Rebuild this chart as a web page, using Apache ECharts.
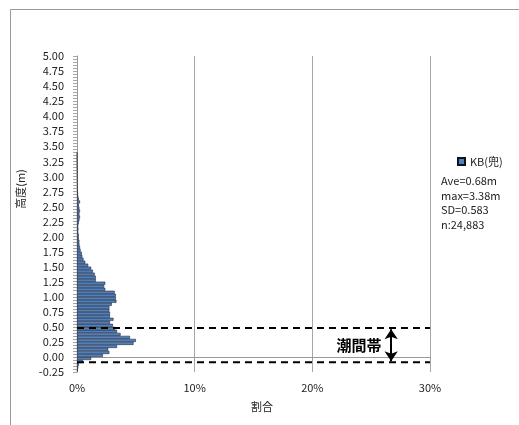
<!DOCTYPE html>
<html><head><meta charset="utf-8">
<script src="https://cdn.jsdelivr.net/npm/echarts@6/dist/echarts.min.js"></script>
<style>html,body{margin:0;padding:0;background:#fff}#c{width:519px;height:425px}</style>
</head><body><div id="c"></div>
<script>
// Lower edge of each 0.05 m height bin (m)
var heightBins = [-0.25,-0.20,-0.15,-0.10,-0.05,0.00,0.05,0.10,0.15,0.20,0.25,0.30,0.35,0.40,0.45,0.50,0.55,0.60,0.65,0.70,0.75,0.80,0.85,0.90,0.95,1.00,1.05,1.10,1.15,1.20,1.25,1.30,1.35,1.40,1.45,1.50,1.55,1.60,1.65,1.70,1.75,1.80,1.85,1.90,1.95,2.00,2.05,2.10,2.15,2.20,2.25,2.30,2.35,2.40,2.45,2.50,2.55,2.60,2.65,2.70,2.75,2.80,2.85,2.90,2.95,3.00,3.05,3.10,3.15,3.20,3.25,3.30,3.35];
// Share (%) of each bin
var sharePercent = [0.05,0.1,0.15,0.5,1.2,2.2,2.75,2.65,3.4,4.8,5.0,4.5,3.7,3.4,3.25,3.05,2.8,3.1,2.8,2.8,2.75,2.75,2.95,3.35,3.3,3.3,3.2,2.4,2.3,2.4,1.6,1.6,1.5,1.35,1.2,0.95,0.7,0.55,0.45,0.4,0.3,0.25,0.2,0.2,0.15,0.15,0.1,0.12,0.1,0.15,0.2,0.25,0.2,0.25,0.2,0.15,0.25,0.15,0.1,0.08,0.06,0.05,0.05,0.04,0.04,0.03,0.03,0.02,0.02,0.02,0.01,0.01,0.01];
var seriesName = 'KB(兜)';
var statLines = ['Ave=0.68m','max=3.38m','SD=0.583','n:24,883'];
var xTickLabels = ['0%','10%','20%','30%'];
var intertidalUpper = 0.48, intertidalLower = -0.09;
var intertidalLabel = '潮間帯';
var yTitle = '高度(m)', xTitle = '割合';

var yMin = -0.25, yMax = 5.00, binStep = 0.05;
var nSlots = Math.round((yMax - yMin) / binStep);
var slots = [], barData = [];
for (var i = 0; i < nSlots; i++) { slots.push(String(i)); barData.push(null); }
heightBins.forEach(function (h, k) {
  var idx = Math.round((h - yMin) / binStep);
  barData[idx] = sharePercent[k];
});

var font = '"Noto Sans CJK JP","Noto Sans",sans-serif';
var chart = echarts.init(document.getElementById('c'), null, {renderer: 'canvas'});
chart.setOption({
  animation: false,
  textStyle: {fontFamily: font},
  grid: {left: 77, right: 89, top: 56, bottom: 53, containLabel: false},
  xAxis: {
    type: 'value', min: 0, max: 30, interval: 10,
    axisLine: {show: true, lineStyle: {color: '#9a9a9a'}},
    axisTick: {show: true, length: 4, lineStyle: {color: '#9a9a9a'}},
    axisLabel: {color: '#222', fontSize: 11, margin: 10, fontFamily: font,
      formatter: function (v) { return xTickLabels[Math.round(v / 10)]; }},
    splitLine: {show: true, lineStyle: {color: '#a6a6a6', width: 1}}
  },
  yAxis: [{
    type: 'category', data: slots, boundaryGap: true,
    axisLine: {show: true, lineStyle: {color: '#9a9a9a'}},
    axisTick: {show: true, interval: 0, length: 4, lineStyle: {color: '#a6a6a6'}},
    axisLabel: {show: false}, splitLine: {show: false}
  }, {
    type: 'value', min: yMin, max: yMax, interval: 0.25, position: 'left',
    axisLine: {show: false}, axisTick: {show: false}, splitLine: {show: false},
    axisLabel: {color: '#222', fontSize: 11, margin: 13, fontFamily: font,
      formatter: function (v) { return v.toFixed(2); }}
  }],
  legend: {
    show: true, data: [seriesName], left: 452, top: 151, icon: 'rect',
    itemWidth: 7, itemHeight: 7, itemGap: 4,
    textStyle: {fontSize: 11, color: '#222', fontFamily: font}
  },
  series: [{
    name: seriesName, type: 'bar', xAxisIndex: 0, yAxisIndex: 0,
    data: barData, barCategoryGap: '0%',
    itemStyle: {color: '#4f81bd', borderColor: '#101020', borderWidth: 0.5}
  }, {
    type: 'line', yAxisIndex: 1, symbol: 'none', silent: true,
    data: [[0, intertidalUpper], [30, intertidalUpper]],
    lineStyle: {color: '#000', width: 2, type: [7, 5]}
  }, {
    type: 'line', yAxisIndex: 1, symbol: 'none', silent: true,
    data: [[0, intertidalLower], [30, intertidalLower]],
    lineStyle: {color: '#000', width: 2, type: [7, 5]},
    markLine: {
      silent: true, symbol: ['arrow', 'arrow'], symbolSize: [10, 10],
      label: {show: false},
      lineStyle: {color: '#000', width: 2, type: 'solid'},
      data: [[{coord: [26.7, intertidalUpper - 0.02]}, {coord: [26.7, intertidalLower + 0.02]}]]
    }
  }],
  graphic: [
    {type: 'rect', left: 8, top: 7, shape: {width: 600, height: 500}, style: {fill: 'none', stroke: '#9a9a9a', lineWidth: 1}, silent: true},
    {type: 'text', x: 21, y: 189, rotation: Math.PI / 2, style: {text: yTitle, font: '11px ' + font, fill: '#222', textAlign: 'center', textVerticalAlign: 'middle'}},
    {type: 'text', x: 262, y: 407, style: {text: xTitle, font: '11px ' + font, fill: '#222', textAlign: 'center', textVerticalAlign: 'middle'}},
    {type: 'text', x: 359, y: 345, style: {text: intertidalLabel, font: 'bold 15px ' + font, fill: '#000', textAlign: 'center', textVerticalAlign: 'middle'}},
    {type: 'text', x: 441, y: 174, style: {text: statLines.join('\n'), font: '11px ' + font, fill: '#222', lineHeight: 14.5, textAlign: 'left', textVerticalAlign: 'top'}}
  ]
});
</script></body></html>
